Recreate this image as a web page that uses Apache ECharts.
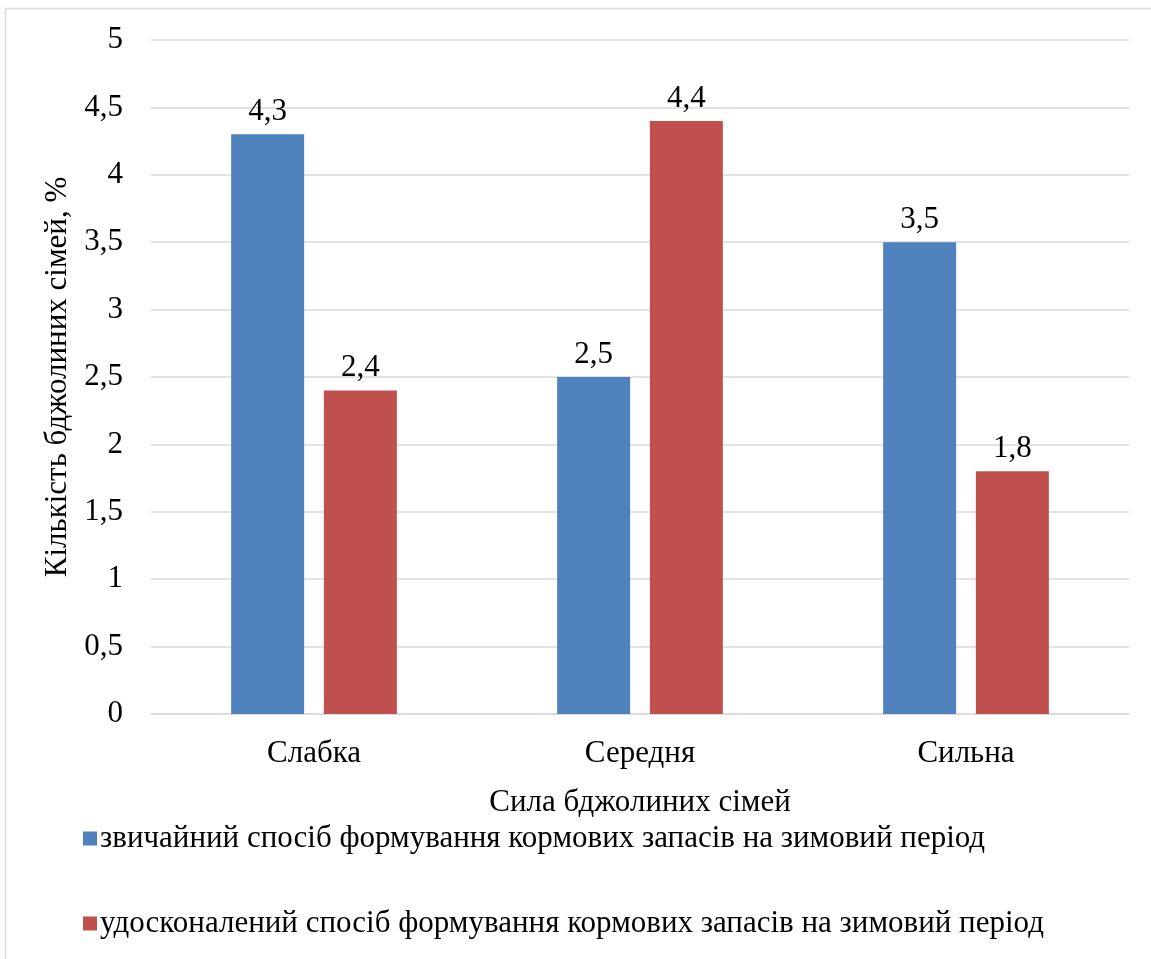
<!DOCTYPE html>
<html>
<head>
<meta charset="utf-8">
<script src="https://cdn.jsdelivr.net/npm/echarts@6/dist/echarts.min.js"></script>
<style>
html,body{margin:0;padding:0;background:#fff;}
#main{width:1151px;height:959px;}
</style>
</head>
<body>
<div id="main"></div>
<script>
var categories = ['Слабка', 'Середня', 'Сильна'];
var seriesNames = [
    'звичайний спосіб формування кормових запасів на зимовий період',
    'удосконалений спосіб формування кормових запасів на зимовий період'
];
var usualValues = [4.3, 2.5, 3.5];
var improvedValues = [2.4, 4.4, 1.8];

var font = 'Liberation Serif, Tinos, DejaVu Serif, serif';
var fs = 31;
var fmt = function (v) { return String(v).replace('.', ','); };

var myChart = echarts.init(document.getElementById('main'));
var option = {
    animation: false,
    color: ['#4f81bd', '#c0504d'],
    textStyle: { fontFamily: font, color: '#000' },
    graphic: [{
        type: 'rect',
        shape: { x: 5.5, y: 8.5, width: 1160, height: 970 },
        style: { fill: 'none', stroke: '#d9d9d9', lineWidth: 1.5 },
        silent: true
    }],
    legend: {
        orient: 'vertical',
        left: 78,
        top: 818,
        itemWidth: 14,
        itemHeight: 14,
        itemGap: 54,
        icon: 'rect',
        textStyle: { fontFamily: font, fontSize: fs, color: '#000', padding: [0, 0, 0, -2] },
        data: seriesNames
    },
    grid: { left: 151, right: 22, top: 40, bottom: 245 },
    xAxis: {
        type: 'category',
        data: categories,
        name: 'Сила бджолиних сімей',
        nameLocation: 'middle',
        nameGap: 73,
        nameTextStyle: { fontFamily: font, fontSize: fs, color: '#000' },
        axisLine: { lineStyle: { color: '#d9d9d9', width: 1.5 } },
        axisTick: { show: false },
        axisLabel: { fontFamily: font, fontSize: fs, color: '#000', margin: 24 }
    },
    yAxis: {
        type: 'value',
        min: 0,
        max: 5,
        interval: 0.5,
        name: 'Кількість бджолиних сімей, %',
        nameLocation: 'middle',
        nameGap: 76,
        nameTextStyle: { fontFamily: font, fontSize: fs, color: '#000' },
        axisLine: { show: false },
        axisTick: { show: false },
        splitLine: { lineStyle: { color: '#d9d9d9', width: 1.5 } },
        axisLabel: { fontFamily: font, fontSize: fs, color: '#000', margin: 28, formatter: fmt }
    },
    series: [
        {
            name: seriesNames[0],
            type: 'bar',
            barWidth: 73,
            barGap: '27%',
            data: usualValues,
            label: { show: true, position: 'top', distance: 7, fontFamily: font, fontSize: fs, color: '#000', formatter: function (p) { return fmt(p.value); } }
        },
        {
            name: seriesNames[1],
            type: 'bar',
            barWidth: 73,
            barGap: '27%',
            data: improvedValues,
            label: { show: true, position: 'top', distance: 7, fontFamily: font, fontSize: fs, color: '#000', formatter: function (p) { return fmt(p.value); } }
        }
    ]
};
myChart.setOption(option);
</script>
</body>
</html>
